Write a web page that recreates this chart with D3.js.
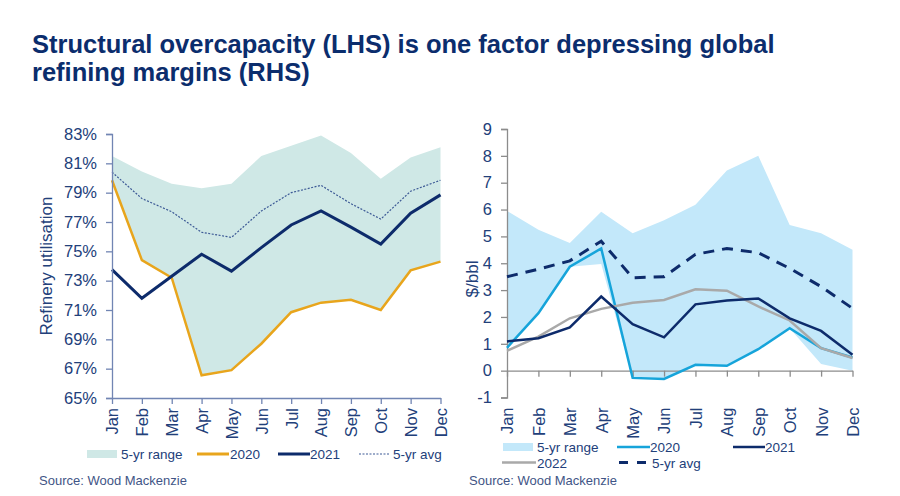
<html>
<head>
<meta charset="utf-8">
<script src='https://d3js.org/d3.v7.min.js'></script>
<style>
body {margin:0; background:#fff;}
text {font-family: "Liberation Sans", Arial, sans-serif;}
</style>
</head>
<body onload='init()'>
<svg width=900 height=496></svg>
<script>
// chart values
const months = ["Jan","Feb","Mar","Apr","May","Jun","Jul","Aug","Sep","Oct","Nov","Dec"];

// LHS: refinery utilisation (%)
const lhsTicks = [65,67,69,71,73,75,77,79,81,83];
const lhsRangeHigh = [81.5, 80.45, 79.6, 79.3, 79.6, 81.5, 82.2, 82.9, 81.7, 79.95, 81.4, 82.1];
const lhsRangeLow  = [79.85, 74.4, 73.2, 66.55, 66.9, 68.7, 70.85, 71.5, 71.7, 71.0, 73.7, 74.3];
const lhs2020 = [79.85, 74.4, 73.2, 66.55, 66.9, 68.7, 70.85, 71.5, 71.7, 71.0, 73.7, 74.3];
const lhs2021 = [73.75, 71.8, 73.3, 74.8, 73.65, 75.25, 76.8, 77.75, 76.65, 75.5, 77.6, 78.85];
const lhsAvg  = [80.4, 78.6, 77.7, 76.3, 75.95, 77.75, 79.0, 79.5, 78.25, 77.2, 79.1, 79.85];

// RHS: refining margins ($/bbl)
const rhsTicks = [-1,0,1,2,3,4,5,6,7,8,9];
const rhsRangeHigh = [5.95, 5.25, 4.75, 5.92, 5.12, 5.6, 6.18, 7.45, 8.0, 5.42, 5.12, 4.5];
const rhsRangeLow  = [0.8, 2.15, 3.87, 3.97, -0.27, -0.31, 0.22, 0.19, 0.8, 1.58, 0.25, 0.0];
const rhs2020 = [0.85, 2.14, 3.87, 4.55, -0.27, -0.31, 0.22, 0.18, 0.8, 1.58, 0.84, 0.49];
const rhs2021 = [1.09, 1.21, 1.61, 2.76, 1.73, 1.24, 2.47, 2.61, 2.69, 1.95, 1.48, 0.59];
const rhs2022 = [0.74, 1.27, 1.95, 2.3, 2.53, 2.63, 3.03, 2.98, 2.39, 1.87, 0.84, 0.47];
const rhsAvg  = [3.5, 3.78, 4.09, 4.82, 3.46, 3.5, 4.33, 4.55, 4.39, 3.81, 3.13, 2.32];

function init() {

var svg = d3.select('svg');
var navy = "#0d2b6b";
var labelColor = "#22407a";

//title
svg.append('text')
   .text("Structural overcapacity (LHS) is one factor depressing global")
   .attr('x', 32).attr('y', 53)
   .style('font-size', '25.5px').style('font-weight', 'bold').attr('fill', '#0b2d6d');
svg.append('text')
   .text("refining margins (RHS)")
   .attr('x', 32).attr('y', 81)
   .style('font-size', '25.5px').style('font-weight', 'bold').attr('fill', '#0b2d6d');

// ---------- left chart ----------
var lx = d3.scalePoint().domain(months).range([112, 440.5]);
var ly = d3.scaleLinear().domain([65, 83]).range([398, 134]);

var lrange = d3.area()
   .x((d, i) => lx(months[i]))
   .y0((d, i) => ly(lhsRangeLow[i]))
   .y1(d => ly(d));
svg.append('path').datum(lhsRangeHigh).attr('d', lrange).attr('fill', '#cfe8e6');

var lline = d3.line().x((d, i) => lx(months[i])).y(d => ly(d));
svg.append('path').datum(lhsAvg).attr('d', lline)
   .attr('fill', 'none').attr('stroke', '#3d5a96').attr('stroke-width', 1.2).attr('stroke-dasharray', '2,1.5');
svg.append('path').datum(lhs2020).attr('d', lline)
   .attr('fill', 'none').attr('stroke', '#e8a51c').attr('stroke-width', 2.5);
svg.append('path').datum(lhs2021).attr('d', lline)
   .attr('fill', 'none').attr('stroke', navy).attr('stroke-width', 3);

//y axis
var lyAxis = svg.append('g')
   .attr('transform', 'translate(112,0)')
   .call(d3.axisLeft(ly).tickValues(lhsTicks).tickSize(6).tickPadding(9).tickFormat(d => d + "%"));
//x axis
var lxAxis = svg.append('g')
   .attr('transform', 'translate(0,398)')
   .call(d3.axisBottom(lx).tickSize(6).tickSizeOuter(0));
lxAxis.selectAll('text')
   .attr('transform', 'rotate(-90)')
   .attr('x', -10).attr('y', 0).attr('dy', '0.36em')
   .attr('text-anchor', 'end');
[lyAxis, lxAxis].forEach(a => {
  a.selectAll('path, line').attr('stroke', '#7185b3').attr('stroke-width', 1.3);
  a.selectAll('text').attr('fill', labelColor).style('font-size', '16.5px')
   .style('font-family', '"Liberation Sans", Arial, sans-serif');
});

svg.append('text')
   .text("Refinery utilisation")
   .attr('transform', 'translate(52,266) rotate(-90)')
   .attr('text-anchor', 'middle')
   .style('font-size', '17px').attr('fill', labelColor);

// ---------- right chart ----------
var rx = d3.scalePoint().domain(months).range([507, 852.5]);
var ry = d3.scaleLinear().domain([-1, 9]).range([397.5, 129]);

var rrange = d3.area()
   .x((d, i) => rx(months[i]))
   .y0((d, i) => ry(rhsRangeLow[i]))
   .y1(d => ry(d));
svg.append('path').datum(rhsRangeHigh).attr('d', rrange).attr('fill', '#c3e8fa');

//y axis
var ryAxis = svg.append('g')
   .attr('transform', 'translate(507,0)')
   .call(d3.axisLeft(ry).tickValues(rhsTicks).tickSize(6).tickPadding(9).tickFormat(d => String(d)));
//x axis sits on zero, month labels below the -1 line
var rxAxis = svg.append('g')
   .attr('transform', 'translate(0,' + ry(0) + ')')
   .call(d3.axisBottom(rx).tickSize(6).tickSizeOuter(0).tickFormat(''));
var rxLabels = svg.append('g')
   .attr('transform', 'translate(0,' + ry(-1) + ')')
   .call(d3.axisBottom(rx).tickSize(0));
rxLabels.select('.domain').remove();
rxLabels.selectAll('text')
   .attr('transform', 'rotate(-90)')
   .attr('x', -10).attr('y', 0).attr('dy', '0.36em')
   .attr('text-anchor', 'end');
[ryAxis, rxAxis, rxLabels].forEach(a => {
  a.selectAll('path, line').attr('stroke', '#8c8c8c').attr('stroke-width', 1.3);
  a.selectAll('text').attr('fill', labelColor).style('font-size', '16.5px')
   .style('font-family', '"Liberation Sans", Arial, sans-serif');
});

var rline = d3.line().x((d, i) => rx(months[i])).y(d => ry(d));
svg.append('path').datum(rhs2020).attr('d', rline)
   .attr('fill', 'none').attr('stroke', '#16a4da').attr('stroke-width', 2.5);
svg.append('path').datum(rhs2022).attr('d', rline)
   .attr('fill', 'none').attr('stroke', '#a9a9a9').attr('stroke-width', 2.5);
svg.append('path').datum(rhs2021).attr('d', rline)
   .attr('fill', 'none').attr('stroke', navy).attr('stroke-width', 2.5);
svg.append('path').datum(rhsAvg).attr('d', rline)
   .attr('fill', 'none').attr('stroke', navy).attr('stroke-width', 3).attr('stroke-dasharray', '11,8');

svg.append('text')
   .text("$/bbl")
   .attr('transform', 'translate(478,279) rotate(-90)')
   .attr('text-anchor', 'middle')
   .style('font-size', '17px').attr('fill', labelColor);

// ---------- legends ----------
function legendRect(x, y, color) {
  svg.append('rect').attr('x', x).attr('y', y - 4).attr('width', 30).attr('height', 8).attr('fill', color);
}
function legendLine(x, y, w, color, width, dash) {
  svg.append('line').attr('x1', x).attr('x2', x + w).attr('y1', y).attr('y2', y)
     .attr('stroke', color).attr('stroke-width', width).attr('stroke-dasharray', dash || null);
}
function legendText(x, y, t) {
  svg.append('text').text(t).attr('x', x).attr('y', y + 5)
     .style('font-size', '13.5px').attr('fill', labelColor);
}

legendRect(87, 454, '#cfe8e6');            legendText(121, 454, "5-yr range");
legendLine(197, 454, 32, '#e8a51c', 3);    legendText(230, 454, "2020");
legendLine(278, 454, 32, navy, 3);         legendText(310, 454, "2021");
legendLine(359, 454, 31, '#3d5a96', 1.2, '2,1.5'); legendText(393, 454, "5-yr avg");

legendRect(503, 447, '#c3e8fa');           legendText(537, 447, "5-yr range");
legendLine(617, 447, 33, '#16a4da', 2.5);  legendText(650, 447, "2020");
legendLine(733, 447, 32, navy, 2.5);       legendText(765, 447, "2021");
legendLine(502, 462.5, 34, '#a9a9a9', 2.5);legendText(537, 462.5, "2022");
legendLine(619, 462.5, 27, navy, 3, '9,9'); legendText(652, 462.5, "5-yr avg");

//source
svg.append('text').text("Source: Wood Mackenzie").attr('x', 39).attr('y', 485)
   .style('font-size', '13px').attr('fill', '#3f5586');
svg.append('text').text("Source: Wood Mackenzie").attr('x', 469).attr('y', 485)
   .style('font-size', '13px').attr('fill', '#3f5586');
}
</script>
</body>
</html>
